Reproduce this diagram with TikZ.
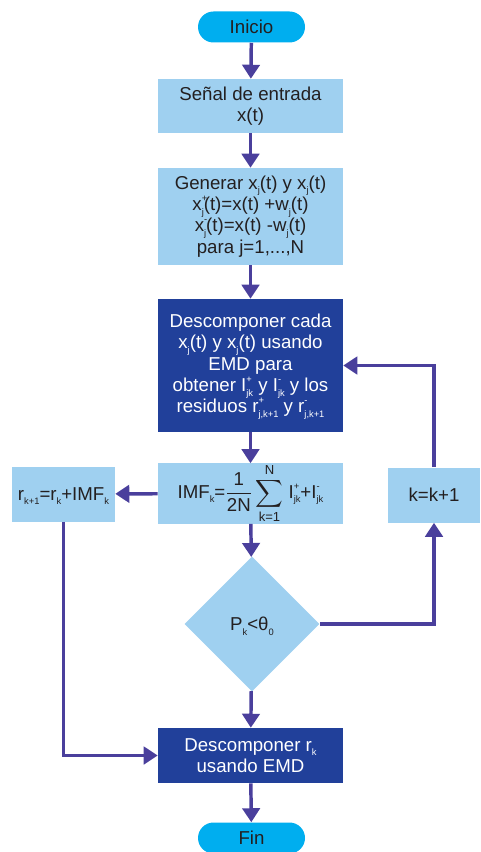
\documentclass[tikz,border=0pt]{standalone}
\usepackage{amsmath}
\usepackage{fontspec}
\setmainfont{Liberation Sans}
\usepackage{xcolor}
\usetikzlibrary{arrows.meta,positioning,calc,shapes.geometric,shapes.misc}
\definecolor{capcyan}{HTML}{00AEEF}
\definecolor{boxlight}{HTML}{9FD0F0}
\definecolor{boxdark}{HTML}{21409A}
\definecolor{flowline}{HTML}{4A3F9C}
\definecolor{inkgray}{HTML}{231F20}
\newcommand{\sbs}[1]{\smash{\raisebox{-0.24em}{\scriptsize #1}}}
\newcommand{\sps}[1]{\smash{\raisebox{0.5em}{\scriptsize #1}}}
\newcommand{\supsub}[2]{\rlap{\sps{#1}}\sbs{#2}}

\begin{document}
\begin{tikzpicture}[x=0.75pt, y=-0.75pt,
  font=\fontsize{14}{16}\selectfont,
  lightbox/.style={fill=boxlight, text=inkgray, align=center, inner sep=0pt, minimum width=138.75pt},
  darkbox/.style={fill=boxdark, text=white, align=center, inner sep=0pt, minimum width=138.75pt},
  capsule/.style={rounded rectangle, fill=capcyan, text=inkgray, inner sep=0pt, minimum width=80.25pt, minimum height=23.25pt},
  decision/.style={diamond, fill=boxlight, text=inkgray, inner sep=0pt, minimum width=101.25pt, minimum height=101.25pt},
  flow/.style={draw=flowline, line width=2.6pt, -{Triangle[length=10.5pt, width=13pt]}}]
  \useasboundingbox (0,0) rectangle (480,852);
  \node[capsule] (inicio) at (251.5,27) {Inicio};
  \node[lightbox, minimum height=40.5pt] (senal) at (250.5,106) {Señal de entrada\\x(t)};
  \node[lightbox, minimum height=72.75pt] (generar) at (250.5,216.5) {Generar x\sbs{j}(t) y x\sbs{j}(t)\\x\supsub{+}{j}(t)=x(t) +w\sbs{j}(t)\\x\supsub{-}{j}(t)=x(t) -w\sbs{j}(t)\\para j=1,...,N};
  \node[darkbox, minimum height=99.75pt] (descomp) at (250.5,365.5) {Descomponer cada\\x\sbs{j}(t) y x\sbs{j}(t) usando\\EMD para\\obtener I\supsub{+}{jk} y I\supsub{-}{jk} y los\\residuos r\supsub{+}{j,k+1} y r\supsub{-}{j,k+1}};
  \node[lightbox, minimum height=41.25pt] (imf) at (250.5,493.5) {IMF\sbs{k}=$\dfrac{\text{1}}{\text{2N}}\displaystyle\sum_{\text{k=1}}^{\text{N}}$ I\supsub{+}{jk}+I\supsub{-}{jk}};
  \node[lightbox, minimum width=77.25pt, minimum height=41.25pt] (resid) at (63.5,494) {r\sbs{k+1}=r\sbs{k}+IMF\sbs{k}};
  \node[lightbox, minimum width=69pt, minimum height=41.25pt] (kinc) at (434,495) {k=k+1};
  \node[decision] (cond) at (252,624) {P\sbs{k}<θ\sbs{0}};
  \node[darkbox, minimum height=41.25pt] (final) at (250.5,755.5) {Descomponer r\sbs{k}\\usando EMD};
  \node[capsule] (fin) at (251.5,838) {Fin};
  % main column
  \draw[flow] (inicio) -- (senal);
  \draw[flow] (senal) -- (generar);
  \draw[flow] (generar) -- (descomp);
  \draw[flow] (descomp) -- (imf);
  \draw[flow] (imf) -- (cond);
  \draw[flow] (cond) -- (final);
  \draw[flow] (final) -- (fin);
  % side branches
  \draw[flow] (imf) -- (resid);
  \draw[flow] (resid.south) |- (final.west);
  \draw[flow] (cond.east) -| (kinc.south);
  \draw[flow] (kinc.north) |- (descomp.east);
\end{tikzpicture}
\end{document}
